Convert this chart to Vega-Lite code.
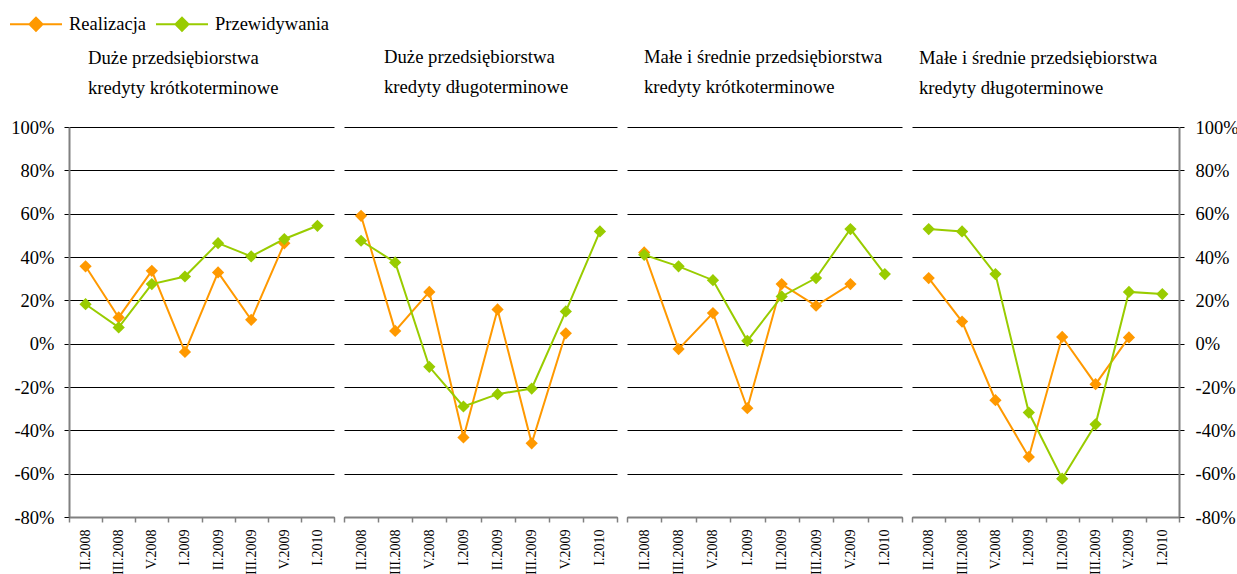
{
  "$schema": "https://vega.github.io/schema/vega-lite/v6.json",
  "padding": {"left": 9, "top": -3, "right": 0, "bottom": 0},
  "background": "white",
  "spacing": 2,
  "datasets": {
    "d": [
      {"p":1,"t":"II.2008","s":"Realizacja","v":35.7},
      {"p":1,"t":"III.2008","s":"Realizacja","v":12.1},
      {"p":1,"t":"V.2008","s":"Realizacja","v":33.6},
      {"p":1,"t":"I.2009","s":"Realizacja","v":-3.8},
      {"p":1,"t":"II.2009","s":"Realizacja","v":32.9},
      {"p":1,"t":"III.2009","s":"Realizacja","v":11.0},
      {"p":1,"t":"V.2009","s":"Realizacja","v":46.3},
      {"p":1,"t":"II.2008","s":"Przewidywania","v":18.2},
      {"p":1,"t":"III.2008","s":"Przewidywania","v":7.5},
      {"p":1,"t":"V.2008","s":"Przewidywania","v":27.5},
      {"p":1,"t":"I.2009","s":"Przewidywania","v":31.0},
      {"p":1,"t":"II.2009","s":"Przewidywania","v":46.4},
      {"p":1,"t":"III.2009","s":"Przewidywania","v":40.3},
      {"p":1,"t":"V.2009","s":"Przewidywania","v":48.3},
      {"p":1,"t":"I.2010","s":"Przewidywania","v":54.4},
      {"p":2,"t":"II.2008","s":"Realizacja","v":59.0},
      {"p":2,"t":"III.2008","s":"Realizacja","v":5.9},
      {"p":2,"t":"V.2008","s":"Realizacja","v":23.9},
      {"p":2,"t":"I.2009","s":"Realizacja","v":-43.3},
      {"p":2,"t":"II.2009","s":"Realizacja","v":15.8},
      {"p":2,"t":"III.2009","s":"Realizacja","v":-46.0},
      {"p":2,"t":"V.2009","s":"Realizacja","v":4.8},
      {"p":2,"t":"II.2008","s":"Przewidywania","v":47.5},
      {"p":2,"t":"III.2008","s":"Przewidywania","v":37.5},
      {"p":2,"t":"V.2008","s":"Przewidywania","v":-10.7},
      {"p":2,"t":"I.2009","s":"Przewidywania","v":-29.0},
      {"p":2,"t":"II.2009","s":"Przewidywania","v":-23.3},
      {"p":2,"t":"III.2009","s":"Przewidywania","v":-20.7},
      {"p":2,"t":"V.2009","s":"Przewidywania","v":14.9},
      {"p":2,"t":"I.2010","s":"Przewidywania","v":51.8},
      {"p":3,"t":"II.2008","s":"Realizacja","v":42.1},
      {"p":3,"t":"III.2008","s":"Realizacja","v":-2.5},
      {"p":3,"t":"V.2008","s":"Realizacja","v":14.1},
      {"p":3,"t":"I.2009","s":"Realizacja","v":-29.8},
      {"p":3,"t":"II.2009","s":"Realizacja","v":27.5},
      {"p":3,"t":"III.2009","s":"Realizacja","v":17.5},
      {"p":3,"t":"V.2009","s":"Realizacja","v":27.5},
      {"p":3,"t":"II.2008","s":"Przewidywania","v":41.0},
      {"p":3,"t":"III.2008","s":"Przewidywania","v":35.7},
      {"p":3,"t":"V.2008","s":"Przewidywania","v":29.3},
      {"p":3,"t":"I.2009","s":"Przewidywania","v":1.3},
      {"p":3,"t":"II.2009","s":"Przewidywania","v":21.8},
      {"p":3,"t":"III.2009","s":"Przewidywania","v":30.3},
      {"p":3,"t":"V.2009","s":"Przewidywania","v":52.9},
      {"p":3,"t":"I.2010","s":"Przewidywania","v":32.1},
      {"p":4,"t":"II.2008","s":"Realizacja","v":30.3},
      {"p":4,"t":"III.2008","s":"Realizacja","v":10.2},
      {"p":4,"t":"V.2008","s":"Realizacja","v":-26.1},
      {"p":4,"t":"I.2009","s":"Realizacja","v":-52.3},
      {"p":4,"t":"II.2009","s":"Realizacja","v":3.1},
      {"p":4,"t":"III.2009","s":"Realizacja","v":-18.7},
      {"p":4,"t":"V.2009","s":"Realizacja","v":2.9},
      {"p":4,"t":"II.2008","s":"Przewidywania","v":52.9},
      {"p":4,"t":"III.2008","s":"Przewidywania","v":51.8},
      {"p":4,"t":"V.2008","s":"Przewidywania","v":32.1},
      {"p":4,"t":"I.2009","s":"Przewidywania","v":-31.8},
      {"p":4,"t":"II.2009","s":"Przewidywania","v":-62.3},
      {"p":4,"t":"III.2009","s":"Przewidywania","v":-37.2},
      {"p":4,"t":"V.2009","s":"Przewidywania","v":23.9},
      {"p":4,"t":"I.2010","s":"Przewidywania","v":22.9}
    ]
  },
  "data": {"name": "d"},
  "hconcat": [
    {
      "width": 265, "height": 390,
      "title": {"text": ["Duże przedsiębiorstwa", "kredyty krótkoterminowe"], "dx": 19, "offset": 20},
      "transform": [{"filter": "datum.p == 1"}],
      "encoding": {
        "x": {"field": "t", "type": "ordinal", "title": null,
              "scale": {"type": "band", "domain": ["II.2008","III.2008","V.2008","I.2009","II.2009","III.2009","V.2009","I.2010"], "paddingInner": 0, "paddingOuter": 0},
              "axis": {"orient": "bottom"}},
        "y": {"field": "v", "type": "quantitative", "title": null,
              "scale": {"domain": [-80, 100], "nice": false, "zero": false},
              "axis": {"orient": "left", "values": [-80,-60,-40,-20,0,20,40,60,80,100], "labelExpr": "datum.value + '%'", "domain": true, "domainColor": "#808080", "domainWidth": 2, "ticks": true, "tickColor": "#000000", "tickSize": 5, "labelPadding": 10, "labelFontSize": 18.5}},
        "color": {"field": "s", "type": "nominal",
                  "scale": {"domain": ["Realizacja", "Przewidywania"], "range": ["#FF9900", "#99CC00"]},
                  "legend": {"title": null, "orient": "none", "legendX": -60, "legendY": -130, "direction": "horizontal",
                             "symbolType": "M-1,0L1,0M0,-0.25L0.25,0L0,0.25L-0.25,0Z",
                             "symbolSize": 2704, "symbolStrokeWidth": 2,
                             "labelFontSize": 18.5, "labelFont": "Liberation Serif", "labelColor": "#000000",
                             "labelOffset": 6, "columnPadding": 5, "padding": 0,
                             "encode": {"symbols": {"update": {"fill": {"scale": "color", "field": "value"}, "stroke": {"scale": "color", "field": "value"}, "opacity": {"value": 1}}}}}},
        "order": {"value": null}
      },
      "layer": [
        {"mark": {"type": "line", "strokeWidth": 2}},
        {"mark": {"type": "point", "shape": "diamond", "filled": true, "size": 150, "opacity": 1}}
      ]
    },
    {
      "width": 273, "height": 390,
      "title": {"text": ["Duże przedsiębiorstwa", "kredyty długoterminowe"], "dx": 40, "offset": 30},
      "transform": [{"filter": "datum.p == 2"}],
      "encoding": {
        "x": {"field": "t", "type": "ordinal", "title": null,
              "scale": {"type": "band", "domain": ["II.2008","III.2008","V.2008","I.2009","II.2009","III.2009","V.2009","I.2010"], "paddingInner": 0, "paddingOuter": 0},
              "axis": {"orient": "bottom"}},
        "y": {"field": "v", "type": "quantitative", "title": null,
              "scale": {"domain": [-80, 100], "nice": false, "zero": false},
              "axis": {"values": [-80,-60,-40,-20,0,20,40,60,80,100], "domain": false, "ticks": false, "labels": false, "minExtent": 0}},
        "color": {"field": "s", "type": "nominal", "scale": {"domain": ["Realizacja", "Przewidywania"], "range": ["#FF9900", "#99CC00"]}},
        "order": {"value": null}
      },
      "layer": [
        {"mark": {"type": "line", "strokeWidth": 2}},
        {"mark": {"type": "point", "shape": "diamond", "filled": true, "size": 150, "opacity": 1}}
      ]
    },
    {
      "width": 275, "height": 390,
      "title": {"text": ["Małe i średnie  przedsiębiorstwa", "kredyty krótkoterminowe"], "dx": 17, "offset": 30},
      "transform": [{"filter": "datum.p == 3"}],
      "encoding": {
        "x": {"field": "t", "type": "ordinal", "title": null,
              "scale": {"type": "band", "domain": ["II.2008","III.2008","V.2008","I.2009","II.2009","III.2009","V.2009","I.2010"], "paddingInner": 0, "paddingOuter": 0},
              "axis": {"orient": "bottom"}},
        "y": {"field": "v", "type": "quantitative", "title": null,
              "scale": {"domain": [-80, 100], "nice": false, "zero": false},
              "axis": {"values": [-80,-60,-40,-20,0,20,40,60,80,100], "domain": false, "ticks": false, "labels": false, "minExtent": 0}},
        "color": {"field": "s", "type": "nominal", "scale": {"domain": ["Realizacja", "Przewidywania"], "range": ["#FF9900", "#99CC00"]}},
        "order": {"value": null}
      },
      "layer": [
        {"mark": {"type": "line", "strokeWidth": 2}},
        {"mark": {"type": "point", "shape": "diamond", "filled": true, "size": 150, "opacity": 1}}
      ]
    },
    {
      "width": 267, "height": 390,
      "title": {"text": ["Małe i średnie  przedsiębiorstwa", "kredyty długoterminowe"], "dx": 7, "offset": 20},
      "transform": [{"filter": "datum.p == 4"}],
      "encoding": {
        "x": {"field": "t", "type": "ordinal", "title": null,
              "scale": {"type": "band", "domain": ["II.2008","III.2008","V.2008","I.2009","II.2009","III.2009","V.2009","I.2010"], "paddingInner": 0, "paddingOuter": 0},
              "axis": {"orient": "bottom"}},
        "y": {"field": "v", "type": "quantitative", "title": null,
              "scale": {"domain": [-80, 100], "nice": false, "zero": false},
              "axis": {"orient": "right", "values": [-80,-60,-40,-20,0,20,40,60,80,100], "labelExpr": "datum.value + '%'", "domain": true, "domainColor": "#808080", "domainWidth": 2, "ticks": true, "tickColor": "#000000", "tickSize": 5, "labelPadding": 11, "labelFontSize": 18.5}},
        "color": {"field": "s", "type": "nominal", "scale": {"domain": ["Realizacja", "Przewidywania"], "range": ["#FF9900", "#99CC00"]}},
        "order": {"value": null}
      },
      "layer": [
        {"mark": {"type": "line", "strokeWidth": 2}},
        {"mark": {"type": "point", "shape": "diamond", "filled": true, "size": 150, "opacity": 1}}
      ]
    }
  ],
  "config": {
    "view": {"stroke": null},
    "font": "Liberation Serif",
    "title": {"anchor": "start", "frame": "group", "font": "Liberation Serif", "fontSize": 18.7, "fontWeight": "normal", "color": "#000000", "lineHeight": 30},
    "axis": {"labelFont": "Liberation Serif", "labelColor": "#000000", "grid": false},
    "axisY": {"grid": true, "gridColor": "#000000", "gridWidth": 1, "gridOpacity": 1},
    "axisX": {"tickBand": "extent", "labelAngle": -90, "labelFontSize": 14, "labelPadding": 7, "domainColor": "#808080", "domainWidth": 2, "tickColor": "#808080", "tickSize": 5, "tickWidth": 1.5, "grid": false}
  }
}
